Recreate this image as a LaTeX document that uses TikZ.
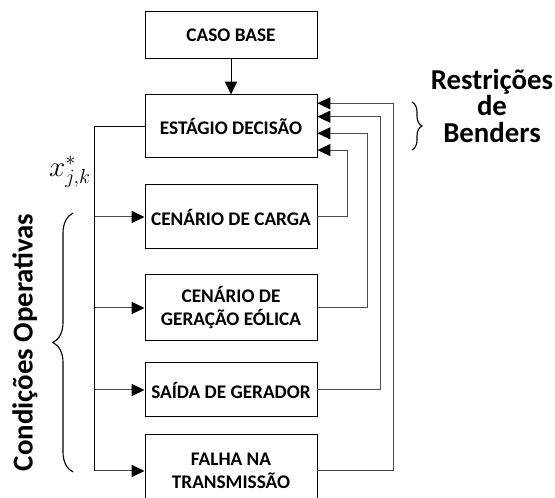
\documentclass[tikz,border=0pt]{standalone}
\usepackage{fontspec}
\setmainfont{Carlito}
\usetikzlibrary{arrows.meta,decorations.pathreplacing}

\begin{document}
\begin{tikzpicture}[
  stage/.style={draw, line width=0.7pt, minimum width=4.3cm, align=center,
    font=\fontsize{13.7}{16.4}\selectfont\bfseries},
  flow/.style={black!70, line width=0.7pt, -{Triangle[length=3.2mm,width=3mm,color=black]}},
  side/.style={font=\fontsize{20.5}{18.6}\selectfont\bfseries, align=center}
]
  \useasboundingbox (0,0) rectangle (13.875,12.45);

  % master problem and its starting case
  \node[stage, minimum height=1.175cm] (base) at (5.775,11.5625) {CASO BASE};
  \node[stage, minimum height=1.575cm] (decisao) at (5.775,9.2875) {ESTÁGIO DECISÃO};
  \draw[flow, black] (base) -- (decisao);

  % operating scenarios
  \node[stage, minimum height=1.6cm] (carga) at (5.775,7.025) {CENÁRIO DE CARGA};
  \node[stage, minimum height=1.65cm] (eolica) at (5.775,4.75) {CENÁRIO DE\\GERAÇÃO EÓLICA};
  \node[stage, minimum height=1.35cm] (saida) at (5.775,2.7) {SAÍDA DE GERADOR};
  \node[stage, minimum height=1.8cm] (falha) at (5.775,0.675) {FALHA NA\\TRANSMISSÃO};

  % decision x* sent down to every scenario
  \draw[line width=0.9pt] (decisao.west) -- ++(-1.25,0) coordinate (bus);
  \draw[line width=0.7pt] (bus) -- (bus |- falha.west);
  \foreach \n in {carga,eolica,saida,falha}
    \draw[flow] (bus |- \n.west) -- (\n.west);
  \node[font=\fontsize{20}{20}\selectfont] (xstar) at (1.75,8.15) {$x^*_{j,k}$};

  % Benders cuts returned to the decision stage
  \foreach \n/\dx/\dy in {carga/0.75/-0.59, eolica/1.25/-0.17, saida/1.575/0.245, falha/1.9/0.58}
    \draw[flow] (\n.east) -- ++(\dx,0) |- ([yshift=\dy cm]decisao.east);

  % braces and their labels
  \draw[line width=0.8pt, decorate, decoration={brace, amplitude=0.25cm}]
    (10.3,9.9) -- (10.3,8.7);
  \node[side] (cortes) at (12.3,9.8) {Restrições\\de\\Benders};
  \draw[line width=0.8pt, decorate, decoration={brace, amplitude=0.5cm}]
    (1.825,0.65) -- (1.825,7.125);
  \node[side, rotate=90] (operativas) at (0.625,3.89) {Condições Operativas};

\end{tikzpicture}
\end{document}
